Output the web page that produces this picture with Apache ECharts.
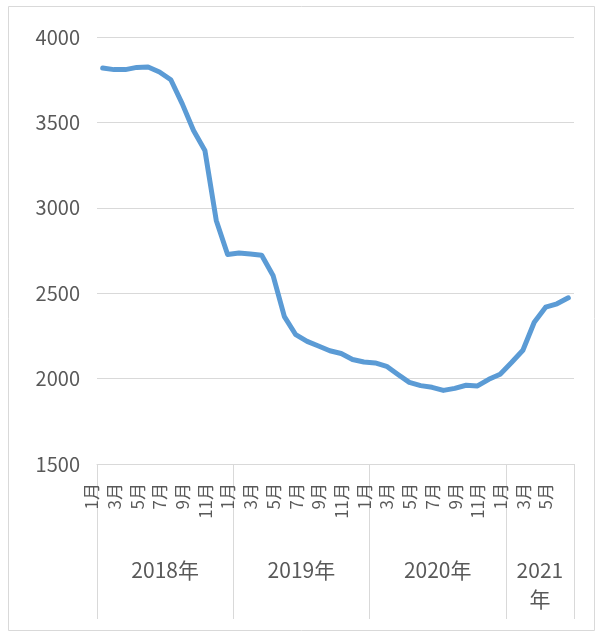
<!DOCTYPE html>
<html>
<head>
<meta charset="utf-8">
<script src="https://cdn.jsdelivr.net/npm/echarts@6/dist/echarts.min.js"></script>
<style>html,body{margin:0;padding:0;background:#fff;}#c{width:598px;height:632px;}</style>
</head>
<body>
<div id="c"></div>
<script>
const months = [
  '1月','2月','3月','4月','5月','6月','7月','8月','9月','10月','11月','12月',
  '1月','2月','3月','4月','5月','6月','7月','8月','9月','10月','11月','12月',
  '1月','2月','3月','4月','5月','6月','7月','8月','9月','10月','11月','12月',
  '1月','2月','3月','4月','5月','6月'
];
const values = [
  3818,3809,3809,3822,3824,3795,3750,3610,3453,3336,2926,2727,
  2735,2729,2722,2604,2363,2257,2218,2191,2163,2147,2112,2097,
  2092,2072,2024,1978,1959,1949,1931,1943,1961,1957,1996,2026,
  2094,2166,2330,2418,2438,2473
];
const yearLabels = ['2018年','2019年','2020年','2021\n年'];
const yearCenters = [6,18,30,39];
const yearBounds = [0,12,24,36,42];
const yTicks = [1500,2000,2500,3000,3500,4000];

const font = '"Noto Sans CJK SC", "Noto Sans", sans-serif';
const chart = echarts.init(document.getElementById('c'));
chart.setOption({
  backgroundColor: '#fff',
  animation: false,
  graphic: [{
    type: 'rect',
    shape: {x: 8.5, y: 6.5, width: 586, height: 624},
    style: {fill: 'none', stroke: '#d9d9d9', lineWidth: 1},
    silent: true
  }],
  grid: {left: 97, right: 24, top: 37, bottom: 168},
  xAxis: [{
    type: 'category',
    data: months,
    boundaryGap: true,
    axisLine: {show: true, lineStyle: {color: '#d9d9d9', width: 1}},
    axisTick: {show: false},
    axisLabel: {
      interval: 1,
      rotate: 90,
      margin: 19,
      fontSize: 17,
      lineHeight: 22,
      verticalAlign: 'bottom',
      hideOverlap: false,
      showMinLabel: true,
      color: '#595959',
      fontFamily: font
    },
    splitLine: {show: false}
  }, {
    type: 'value',
    min: 0,
    max: 42,
    position: 'bottom',
    axisLine: {show: false},
    splitLine: {show: false},
    axisTick: {
      show: true,
      customValues: yearBounds,
      length: 155,
      inside: false,
      lineStyle: {color: '#d9d9d9', width: 1}
    },
    axisLabel: {
      customValues: yearCenters,
      margin: 92,
      fontSize: 21,
      lineHeight: 29,
      color: '#595959',
      fontFamily: font,
      formatter: function (v) {
        const i = yearCenters.indexOf(v);
        return i >= 0 ? yearLabels[i] : '';
      }
    }
  }],
  yAxis: {
    type: 'value',
    min: yTicks[0],
    max: yTicks[yTicks.length - 1],
    interval: 500,
    axisLine: {show: false},
    axisTick: {show: false},
    axisLabel: {
      fontSize: 20, color: '#595959', margin: 17, fontFamily: font,
      formatter: function (v) { return String(v); }
    },
    splitLine: {show: true, lineStyle: {color: '#d9d9d9', width: 1}}
  },
  series: [{
    type: 'line',
    xAxisIndex: 0,
    data: values,
    showSymbol: false,
    symbol: 'none',
    smooth: false,
    lineStyle: {color: '#5b9bd5', width: 5, cap: 'round', join: 'round'},
    itemStyle: {color: '#5b9bd5'}
  }]
});
</script>
</body>
</html>
